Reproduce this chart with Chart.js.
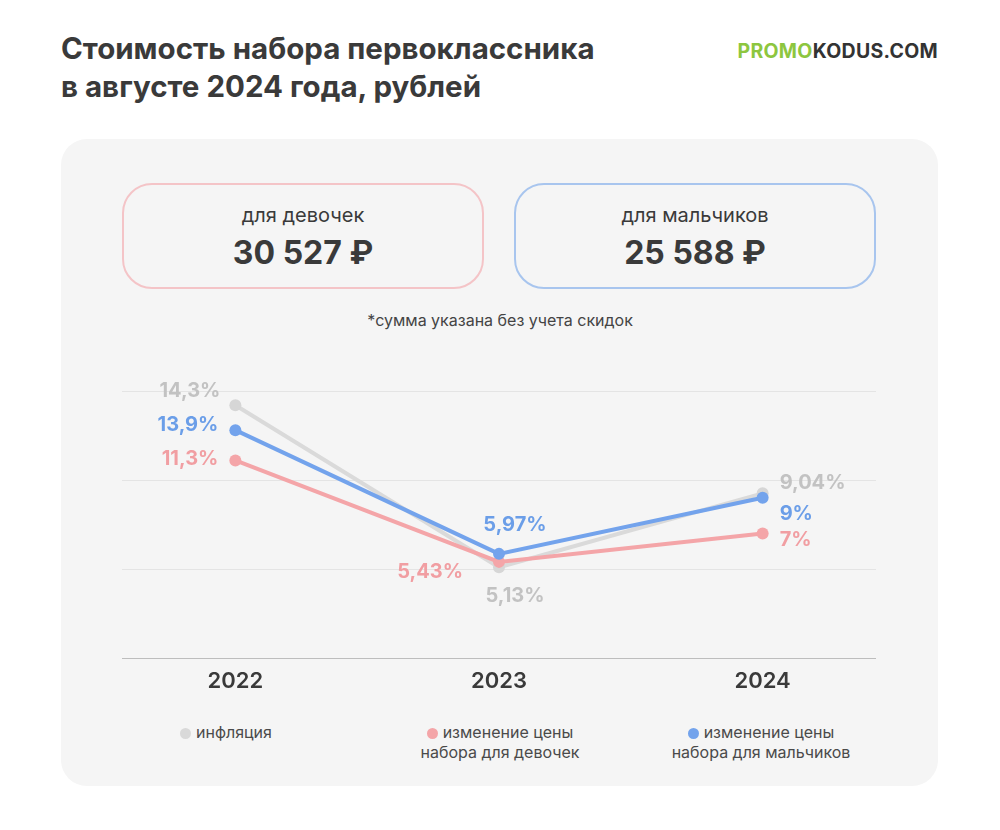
<!DOCTYPE html>
<html lang="ru">
<head>
<meta charset="utf-8">
<script src="https://cdn.jsdelivr.net/npm/chart.js@4"></script>
<style>
  html, body { margin:0; padding:0; background:#fff; }
  body { width:1000px; height:830px; position:relative; overflow:hidden; font-family: Inter, "Noto Sans", sans-serif; color:#3a3a3a; }
  .title { position:absolute; left:61px; top:29px; font-size:29.5px; font-weight:700; line-height:38px; color:#3a3a3a; letter-spacing:0px; }
  .logo { position:absolute; right:62px; top:39px; font-size:19.5px; font-weight:700; letter-spacing:0.3px; color:#333; }
  .logo .g { color:#8dc63f; }
  .panel { position:absolute; left:61px; top:139px; width:877px; height:647px; border-radius:26px; background:#f5f5f5; }
  .box { position:absolute; top:183px; width:358px; height:102px; border-radius:30px; border:2.5px solid; text-align:center; box-sizing:content-box; }
  .box .l { margin-top:17px; font-size:20px; font-weight:400; color:#3a3a3a; line-height:26px; }
  .box .v { margin-top:6px; font-size:32px; font-weight:700; color:#3a3a3a; line-height:38px; }
  .note { position:absolute; left:0; width:1000px; top:310px; text-align:center; font-size:16px; color:#444; }
  .chartwrap { position:absolute; left:61px; top:360px; width:877px; height:360px; }
  .leg { position:absolute; top:722px; font-size:16px; line-height:20px; color:#4a4a4a; text-align:center; white-space:nowrap; }
  .dot { display:inline-block; width:11px; height:11px; border-radius:50%; margin-right:5px; vertical-align:-1px; }
</style>
</head>
<body>
<div class="title">Стоимость набора первоклассника<br>в августе 2024 года, рублей</div>
<div class="logo"><span class="g">PROMO</span>KODUS.COM</div>
<div class="panel"></div>
<div class="box" style="left:122px; border-color:#f4c4c7;"><div class="l">для девочек</div><div class="v">30 527 ₽</div></div>
<div class="box" style="left:514px; border-color:#a8c5ee;"><div class="l">для мальчиков</div><div class="v">25 588 ₽</div></div>
<div class="note">*сумма указана без учета скидок</div>
<div class="chartwrap"><canvas id="c" width="877" height="360"></canvas></div>
<div class="leg" style="left:180px;"><span class="dot" style="background:#d9d9d9"></span>инфляция</div>
<div class="leg" style="left:400px; width:200px;"><span class="dot" style="background:#f4a5a8"></span>изменение цены<br>набора для девочек</div>
<div class="leg" style="left:661px; width:200px;"><span class="dot" style="background:#73a3ec"></span>изменение цены<br>набора для мальчиков</div>
<script>
const years = ['2022', '2023', '2024'];
const inflation = [14.2, 5.1, 9.25];
const girls = [11.1, 5.4, 7.0];
const boys = [12.8, 5.85, 9.0];
const inflationLabels = ['14,3%', '5,13%', '9,04%'];
const girlsLabels = ['11,3%', '5,43%', '7%'];
const boysLabels = ['13,9%', '5,97%', '9%'];
const yTicks = [0, 5, 10, 15];

const toPts = arr => arr.map((v, i) => ({ x: i, y: v }));

// label placement per dataset & point: [dx, dy, align]
const labelPlacement = {
  inflation: [[-15, -14, 'right'], [16, 29, 'center'], [17, -10, 'left']],
  girls: [[-17, -1, 'right'], [-36, 10, 'right'], [17, 7, 'left']],
  boys: [[-17, -5, 'right'], [16, -29, 'center'], [17, 16, 'left']]
};

const labelPlugin = {
  id: 'pointLabels',
  afterDatasetsDraw(chart) {
    const ctx = chart.ctx;
    ctx.save();
    ctx.font = '700 20px Inter, "Noto Sans", sans-serif';
    ctx.textBaseline = 'middle';
    chart.data.datasets.forEach((ds, di) => {
      const meta = chart.getDatasetMeta(di);
      meta.data.forEach((pt, i) => {
        const p = labelPlacement[ds.key][i];
        ctx.fillStyle = ds.labelColor;
        ctx.textAlign = p[2];
        ctx.fillText(ds.valueLabels[i], pt.x + p[0], pt.y + p[1]);
      });
    });
    ctx.restore();
  }
};

new Chart(document.getElementById('c'), {
  type: 'line',
  data: {
    datasets: [
      { key: 'boys', label: 'изменение цены набора для мальчиков', data: toPts(boys), valueLabels: boysLabels,
        borderColor: '#73a3ec', backgroundColor: '#73a3ec', pointBackgroundColor: '#73a3ec', labelColor: '#6b9ee8',
        borderWidth: 4, pointRadius: 6, pointBorderWidth: 0, order: 0 },
      { key: 'girls', label: 'изменение цены набора для девочек', data: toPts(girls), valueLabels: girlsLabels,
        borderColor: '#f4a5a8', backgroundColor: '#f4a5a8', pointBackgroundColor: '#f4a5a8', labelColor: '#f19ea2',
        borderWidth: 4, pointRadius: 6, pointBorderWidth: 0, order: 1 },
      { key: 'inflation', label: 'инфляция', data: toPts(inflation), valueLabels: inflationLabels,
        borderColor: '#dadada', backgroundColor: '#d6d6d6', pointBackgroundColor: '#d6d6d6', labelColor: '#c2c2c2',
        borderWidth: 4, pointRadius: 6, pointBorderWidth: 0, order: 2 }
    ]
  },
  options: {
    responsive: false,
    animation: false,
    layout: { padding: { left: 61, right: 62, top: 31, bottom: 0 } },
    plugins: { legend: { display: false }, tooltip: { enabled: false } },
    scales: {
      x: {
        type: 'linear', min: -0.43, max: 2.43,
        afterBuildTicks: s => { s.ticks = years.map((_, i) => ({ value: i })); },
        afterFit: s => { s.height = 62; },
        grid: { display: false }, border: { display: false },
        ticks: { padding: 2, color: '#3a3a3a', font: { family: 'Inter', size: 22, weight: '600' },
          callback: v => years[v] }
      },
      y: {
        min: 0, max: 15,
        afterBuildTicks: s => { s.ticks = yTicks.map(v => ({ value: v })); },
        ticks: { display: false },
        border: { display: false },
        grid: { drawTicks: false, lineWidth: 1, color: c => c.tick && c.tick.value === 0 ? '#bdbdbd' : '#e4e4e4' }
      }
    }
  },
  plugins: [labelPlugin]
});
</script>
</body>
</html>
